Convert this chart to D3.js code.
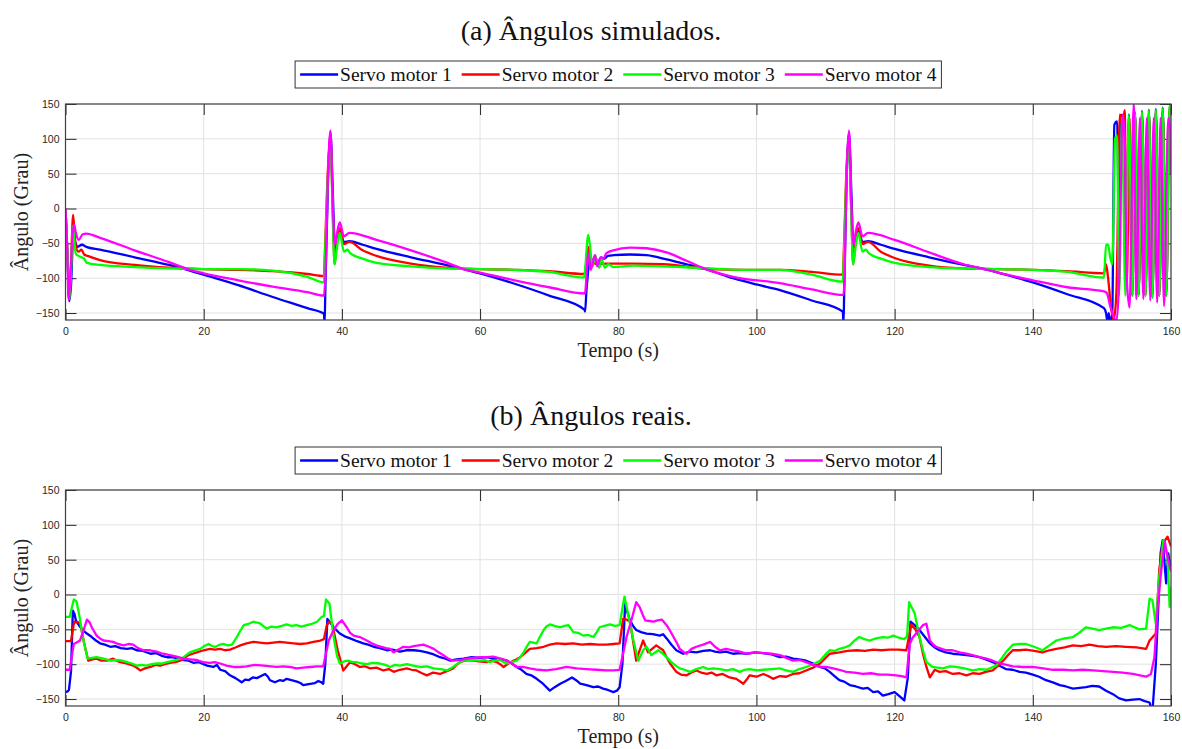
<!DOCTYPE html>
<html>
<head>
<meta charset="utf-8">
<script src="https://cdn.jsdelivr.net/npm/d3@7"></script>
<style>
body { margin: 0; background: #fff; }
</style>
</head>
<body>
<div id="chart"></div>
<script>
// tick values and labels
const xTicks = [0, 20, 40, 60, 80, 100, 120, 140, 160];
const yTicks = [-150, -100, -50, 0, 50, 100, 150];
const seriesNames = ["Servo motor 1", "Servo motor 2", "Servo motor 3", "Servo motor 4"];

// (a) simulated angles, [tempo, angulo]
const sim1 = [[0,0],[0.3,-70],[0.55,-133],[0.8,-110],[1.1,-45],[1.4,-48],[1.7,-55],[2.4,-52],[3,-55],[5,-59],[10,-70],[15,-81],[18,-89],[20,-95],[25,-110],[30,-127],[35,-143],[37.4,-151],[37.5,-165],[37.6,-120],[38.0,40],[38.35,108],[38.7,20],[39.0,-60],[39.4,-38],[39.7,-32],[40.3,-48],[41.1,-47],[43,-52],[45,-58],[50,-70],[55,-81],[58,-88],[60,-93],[65,-108],[70,-125],[75.1,-145],[75.2,-148],[75.4,-117],[75.6,-95],[75.8,-73],[76.1,-82],[76.5,-72],[77,-78],[77.5,-70],[78,-72],[78.5,-68],[79.3,-67],[81.7,-66],[84.1,-67],[87,-73],[89.9,-80],[93,-88],[96.6,-100],[100,-109],[103.4,-117],[108,-132],[112.5,-148],[112.6,-165],[112.7,-120],[113.05,40],[113.4,108],[113.75,20],[114.05,-60],[114.45,-38],[114.75,-32],[115.35,-48],[116.15,-47],[118,-52],[120,-58],[125,-70],[130,-81],[133.5,-88],[135,-92],[140,-106],[145,-123],[150.3,-143],[150.6,-150],[150.8,-162],[151.0,-150],[151.2,-165],[151.5,-150],[151.8,120],[152.2,125],[152.5,-60],[152.8,134],[153.2,134],[153.5,-110],[153.9,135],[154.4,-125],[154.8,138],[155.3,-125],[155.8,140],[156.3,-125],[156.8,142],[157.3,-128],[157.8,143],[158.3,-125],[158.8,145],[159.3,-125],[159.8,147],[160,140]];
const sim2 = [[0,0],[0.3,-70],[0.55,-130],[0.8,-80],[1.1,-9],[1.35,-40],[1.5,-55],[1.9,-62],[2.3,-59],[2.7,-66],[3.2,-68],[5,-74],[10,-81],[15,-85],[20,-87],[25,-88],[30,-90],[35,-94],[37.4,-97],[37.55,-60],[38.0,60],[38.35,100],[38.7,-10],[38.95,-80],[39.3,-45],[39.7,-28],[40.3,-51],[41.1,-48],[43,-60],[45,-68],[50,-79],[55,-85],[60,-87],[65,-88],[70,-90],[75.1,-94],[75.7,-55],[76.1,-73],[76.9,-80],[78.3,-79],[82.2,-79],[86.5,-80],[91.3,-85],[93,-87],[98.5,-88],[103.4,-88],[108,-91],[112.5,-95],[112.65,-60],[113.05,60],[113.4,100],[113.75,-10],[114.0,-80],[114.35,-45],[114.75,-28],[115.35,-51],[116.15,-48],[118,-62],[120,-71],[125,-82],[130,-86],[135,-87],[140,-88],[145,-90],[150.3,-93],[150.6,-80],[150.9,-100],[151.3,-140],[151.7,-160],[152.1,-120],[152.6,135],[153.0,120],[153.3,141],[153.6,-110],[154.0,130],[154.4,-125],[154.8,135],[155.3,-125],[155.8,138],[156.3,-125],[156.8,140],[157.3,-125],[157.8,140],[158.3,-125],[158.8,142],[159.3,-125],[159.8,144],[160,140]];
const sim3 = [[0,0],[0.3,-70],[0.55,-130],[0.8,-90],[1.1,-25],[1.35,-55],[1.5,-65],[1.9,-68],[2.3,-70],[2.7,-72],[3.1,-78],[5,-81],[10,-84],[15,-86],[20,-87],[25,-87],[30,-89],[35,-98],[37.4,-106],[37.55,-70],[38.0,50],[38.35,95],[38.7,-20],[38.95,-80],[39.3,-55],[39.7,-35],[40.3,-62],[40.8,-59],[41.2,-64],[43,-72],[45,-78],[50,-83],[55,-86],[60,-87],[65,-88],[70,-91],[75.04,-99],[75.66,-38],[76.29,-83],[76.63,-67],[77.25,-85],[77.59,-73],[78.07,-85],[78.55,-80],[79.28,-84],[82.17,-82],[86.5,-83],[91.33,-85],[98.55,-88],[103.4,-88],[108,-95],[112.5,-105],[112.65,-70],[113.05,50],[113.4,95],[113.75,-20],[114.0,-80],[114.35,-55],[114.75,-35],[115.35,-62],[115.85,-59],[116.25,-64],[118,-72],[120,-78],[125,-84],[130,-86],[135,-87],[140,-88],[145,-91],[150.3,-99],[150.6,-52],[150.9,-52],[151.2,-70],[151.5,-80],[151.9,100],[152.2,105],[152.5,-125],[152.9,130],[153.4,-125],[153.9,134],[154.4,-125],[154.8,137],[155.3,-125],[155.8,139],[156.3,-126],[156.8,141],[157.3,-128],[157.8,142],[158.3,-125],[158.8,144],[159.3,-125],[159.8,146],[160,148]];
const sim4 = [[0,0],[0.25,-60],[0.45,-131],[0.7,-100],[1.0,-40],[1.25,-23],[1.5,-35],[1.9,-45],[2.5,-37],[3,-36],[5,-42],[10,-60],[15,-77],[18,-88],[20,-93],[25,-103],[30,-112],[35,-120],[37.4,-125],[37.6,-100],[38.0,50],[38.35,112],[38.7,0],[39.0,-52],[39.3,-35],[39.7,-20],[40.3,-40],[41.1,-35],[45,-45],[50,-60],[55,-77],[58,-88],[60,-92],[65,-103],[70,-113],[75.18,-122],[75.66,-64],[76.0,-88],[76.63,-67],[76.96,-83],[77.45,-70],[77.83,-72],[78.31,-64],[79.28,-60],[81.69,-56],[84.1,-57],[86.99,-63],[89.88,-75],[93,-88],[96.63,-98],[103.37,-107],[108,-116],[112.6,-124],[112.75,-100],[113.05,50],[113.4,112],[113.75,0],[114.05,-52],[114.35,-35],[114.75,-20],[115.35,-40],[116.15,-35],[120,-45],[125,-63],[130,-80],[133.5,-88],[135,-92],[140,-103],[145,-113],[150.3,-119],[150.7,-121],[151.2,-140],[151.8,-158],[152.1,-162],[152.5,-100],[153.0,135],[153.3,100],[153.6,-100],[154.0,-142],[154.6,150],[155.0,-130],[155.5,130],[156.0,-130],[156.5,130],[157.0,-132],[157.5,130],[158.0,-135],[158.5,130],[159.0,-140],[159.6,130],[159.9,113],[160,49]];

// (b) real angles, [tempo, angulo]
const real1 = [[0,-140],[0.3,-139],[0.5,-137],[0.8,-110],[1.06,-23],[1.3,-28],[1.5,-37],[2.0,-45],[2.5,-51],[3.1,-56],[3.8,-61],[4.4,-66],[5,-70],[5.7,-72],[6.5,-75],[7.2,-74],[8.0,-77],[8.9,-78],[9.6,-77],[10.3,-80],[11.2,-81],[12.3,-85],[13.1,-84],[13.9,-88],[14.7,-90],[15.6,-90],[16.4,-93],[17.1,-94],[17.8,-95],[18.5,-98],[19.3,-97],[20.5,-102],[21.4,-104],[21.9,-101],[22.4,-108],[23.1,-110],[23.8,-116],[24.6,-120],[25.5,-126],[26.0,-122],[26.5,-123],[27.1,-119],[27.7,-120],[28.3,-117],[28.9,-114],[29.3,-118],[29.6,-123],[30.3,-126],[31,-123],[31.5,-124],[32,-121],[32.7,-123],[33.5,-125],[34.0,-127],[34.4,-130],[35.0,-129],[35.6,-128],[36.1,-127],[36.6,-124],[37.0,-126],[37.3,-128],[37.6,-100],[37.9,-35],[38.3,-40],[38.8,-47],[39.7,-56],[40.4,-60],[41.2,-63],[42.2,-67],[43.1,-70],[43.8,-72],[44.6,-75],[45.5,-77],[46.5,-80],[47.3,-79],[48.4,-82],[49.3,-80],[50.4,-80],[51.3,-81],[52.3,-83],[53.3,-86],[54.2,-90],[55,-92],[55.7,-95],[56.6,-93],[57.6,-92],[58.8,-90],[60,-91],[61,-90],[61.9,-92],[62.9,-93],[63.9,-95],[64.6,-99],[65.3,-104],[66,-108],[66.7,-114],[67.4,-116],[68.2,-121],[69.1,-128],[70.1,-138],[70.8,-133],[71.6,-128],[72.4,-124],[73.3,-119],[73.9,-123],[74.5,-128],[75.4,-130],[76.4,-133],[77.1,-132],[77.8,-135],[78.5,-137],[79.3,-140],[79.8,-138],[80.2,-133],[80.6,-100],[81.0,-13],[81.3,-25],[81.7,-37],[82.2,-46],[82.6,-51],[83.3,-54],[84.1,-56],[85,-57],[86,-59],[86.5,-57],[87,-63],[87.7,-72],[88.4,-80],[89.4,-85],[90.3,-82],[91.3,-83],[92.3,-81],[93.3,-80],[94,-82],[94.7,-83],[95.6,-82],[96.6,-85],[97.6,-84],[98.6,-85],[99.8,-83],[101,-84],[102.2,-86],[103.4,-90],[104.3,-89],[105.3,-92],[106.2,-93],[107.2,-95],[108.2,-99],[109.2,-104],[109.9,-106],[110.6,-111],[111.3,-117],[112,-123],[112.7,-125],[113.5,-130],[114.4,-132],[115.4,-135],[116.1,-134],[116.9,-140],[117.6,-139],[118.3,-145],[119.1,-143],[120,-140],[120.7,-146],[121.4,-152],[121.9,-120],[122.3,-39],[122.9,-44],[123.6,-51],[124.3,-60],[125.1,-70],[125.8,-76],[126.5,-80],[127.4,-83],[128.4,-85],[129.4,-86],[130.4,-87],[131.3,-88],[132.3,-90],[133.2,-93],[134.2,-97],[135.1,-102],[136.1,-107],[137.1,-108],[138.1,-111],[139,-112],[140,-115],[140.9,-118],[141.9,-123],[142.9,-126],[143.9,-130],[144.8,-132],[145.8,-135],[146.8,-134],[147.7,-133],[148.6,-131],[149.6,-132],[150.6,-138],[151.6,-143],[152.5,-149],[153.5,-152],[154.5,-151],[155.4,-150],[156.2,-153],[156.9,-155],[157.3,-170],[157.8,-100],[158.5,60],[158.8,78],[159.3,16],[159.6,59],[160,35]];
const real2 = [[0,-67],[0.8,-67],[1.25,-39],[1.7,-40],[2.1,-40],[2.7,-70],[3.3,-95],[3.9,-93],[4.5,-92],[5.2,-95],[6,-95],[6.9,-92],[7.4,-95],[7.9,-97],[8.8,-99],[9.8,-102],[10.3,-105],[10.8,-109],[11.5,-106],[12.3,-104],[13,-101],[13.7,-102],[14.4,-100],[15.1,-98],[15.9,-97],[16.6,-95],[17.2,-91],[17.8,-87],[18.4,-85],[19,-83],[20,-80],[20.9,-78],[21.6,-79],[22.4,-78],[23.1,-80],[23.8,-79],[24.6,-76],[25.3,-73],[26.2,-70],[27.2,-68],[28.1,-69],[29.1,-70],[30.1,-69],[31,-68],[32,-69],[33,-70],[34,-71],[34.9,-70],[35.9,-68],[36.9,-66],[37.4,-64],[37.8,-45],[38.1,-39],[38.6,-42],[39.4,-80],[40.2,-109],[40.7,-103],[41.2,-97],[41.9,-100],[42.6,-104],[43.3,-103],[44.1,-106],[45,-105],[46,-109],[46.8,-107],[47.5,-111],[48.4,-108],[49.4,-106],[50.1,-108],[50.8,-109],[51.6,-113],[52.3,-116],[53.2,-112],[54.2,-114],[55.2,-110],[56.1,-106],[56.6,-101],[57.1,-97],[57.8,-95],[58.6,-94],[59.8,-96],[61,-97],[61.7,-95],[62.4,-97],[62.9,-100],[63.4,-104],[64.1,-99],[64.8,-95],[65.3,-93],[65.8,-90],[66.5,-84],[67.2,-78],[68.2,-77],[69.2,-75],[70.1,-72],[71.1,-70],[72.3,-71],[73.5,-70],[74.7,-72],[75.9,-71],[77.1,-72],[78.3,-72],[79.3,-71],[80.2,-70],[80.7,-35],[81.2,-36],[81.7,-39],[82.2,-70],[82.6,-95],[83.1,-80],[83.6,-66],[84.3,-83],[84.9,-78],[85.5,-73],[86.5,-80],[87,-90],[87.5,-99],[88.4,-111],[89.1,-115],[89.9,-116],[90.6,-112],[91.3,-109],[92,-112],[92.8,-114],[93.5,-112],[94.2,-116],[95.1,-114],[96.1,-119],[97.1,-121],[98.1,-128],[98.6,-122],[99,-116],[100,-118],[101,-114],[101.7,-117],[102.4,-121],[103.4,-117],[104.3,-118],[105.3,-114],[106.2,-113],[107.2,-109],[108.2,-105],[109.2,-99],[109.9,-92],[110.6,-85],[111.3,-84],[112,-83],[113.2,-81],[114.5,-80],[115.7,-81],[116.9,-79],[118.1,-80],[119.3,-79],[120.5,-79],[121.7,-80],[122.4,-43],[123,-50],[123.6,-61],[124.1,-85],[124.6,-104],[125.1,-119],[125.8,-108],[126.5,-111],[127.4,-110],[128.4,-114],[129.4,-113],[130.4,-116],[131.3,-113],[132.3,-114],[133.2,-111],[134.2,-109],[135,-102],[135.7,-95],[136.4,-87],[137.1,-80],[138,-80],[139,-79],[140.2,-81],[141.4,-83],[142.4,-80],[143.4,-78],[144.6,-76],[145.8,-73],[147,-74],[148.2,-72],[149.4,-74],[150.6,-75],[152,-74],[153.5,-75],[155,-76],[156.4,-78],[156.9,-66],[157.8,-56],[158.3,35],[158.8,73],[159.5,83],[160,69]];
const real3 = [[0,-32],[0.6,-32],[1.2,-7],[1.6,-10],[2.0,-30],[2.5,-61],[3.2,-92],[3.8,-91],[4.5,-90],[5.5,-92],[6.5,-95],[7.5,-94],[8.2,-95],[8.9,-97],[9.6,-99],[10.3,-102],[11,-101],[11.7,-102],[12.5,-100],[13.2,-99],[14,-99],[14.7,-97],[15.6,-95],[16.3,-93],[17.1,-90],[17.6,-86],[18,-83],[18.8,-80],[19.5,-78],[20.1,-74],[20.7,-71],[21.2,-74],[21.7,-75],[22.3,-72],[22.9,-71],[23.5,-73],[24.1,-72],[24.8,-61],[25.3,-52],[25.8,-44],[26.5,-42],[27.2,-39],[27.6,-40],[28.1,-41],[28.6,-45],[29.1,-49],[29.8,-46],[30.5,-47],[31.3,-45],[32,-43],[32.7,-45],[33.4,-44],[34.2,-46],[34.9,-44],[35.7,-42],[36.4,-39],[37.1,-32],[37.4,-31],[37.7,-7],[38.2,-13],[38.8,-61],[39.3,-88],[39.7,-99],[40.3,-96],[40.9,-95],[41.5,-97],[42.1,-97],[42.9,-99],[43.6,-100],[44.5,-98],[45.5,-99],[46.3,-101],[47,-104],[47.7,-101],[48.4,-102],[49.4,-100],[50.3,-102],[51.3,-104],[52.3,-103],[53.3,-106],[54.3,-107],[55.2,-109],[56.1,-104],[56.8,-99],[57.6,-95],[58.8,-94],[60,-95],[60.7,-94],[61.4,-97],[62.1,-95],[62.9,-94],[63.4,-97],[63.9,-99],[64.6,-97],[65.3,-95],[65.8,-90],[66.3,-83],[66.8,-74],[67.2,-68],[67.7,-69],[68.2,-70],[68.7,-60],[69.2,-51],[69.6,-46],[70.1,-43],[70.8,-45],[71.6,-47],[72.2,-45],[72.8,-44],[73.5,-54],[74.2,-55],[74.9,-59],[75.6,-58],[76.4,-61],[76.9,-54],[77.3,-47],[78,-45],[78.8,-43],[79.5,-45],[80.2,-44],[80.6,-20],[80.9,-3],[81.4,-27],[82.2,-66],[82.9,-95],[83.6,-80],[84.1,-75],[84.8,-87],[85.8,-80],[86.7,-87],[87.7,-97],[88.3,-102],[88.9,-106],[89.6,-108],[90.4,-111],[91.3,-107],[92.3,-104],[93,-107],[93.7,-106],[94.7,-107],[95.7,-109],[96.6,-107],[97.6,-111],[98.3,-108],[99,-107],[100,-109],[101,-108],[102.2,-107],[103.4,-106],[104.3,-109],[105.3,-111],[106.2,-107],[107.2,-104],[108.2,-100],[109.2,-95],[109.9,-87],[110.6,-80],[111.3,-81],[112,-78],[112.8,-76],[113.5,-73],[114.2,-66],[114.9,-61],[115.6,-64],[116.4,-66],[117.3,-63],[118.3,-61],[119,-62],[119.8,-59],[120.6,-62],[121.4,-64],[121.8,-60],[122.1,-11],[122.9,-27],[123.6,-61],[124.1,-80],[124.6,-97],[125.5,-104],[126.2,-105],[127,-106],[128,-103],[128.9,-104],[130.1,-106],[131.3,-109],[132.3,-107],[133.3,-108],[134.7,-102],[135.4,-93],[136.1,-83],[137.1,-72],[138,-71],[139,-71],[140.2,-75],[141.4,-80],[142.4,-73],[143.4,-66],[144.6,-63],[145.8,-61],[146.7,-55],[147.7,-47],[148.6,-49],[149.6,-51],[150.6,-49],[151.6,-47],[152.8,-48],[154,-44],[154.7,-47],[155.4,-50],[156.4,-49],[156.9,-6],[157.3,-8],[157.8,-42],[158.3,25],[158.9,78],[159.5,54],[159.8,-18],[160,11]];
const real4 = [[0,-108],[0.6,-108],[1.2,-71],[1.6,-69],[2.1,-66],[2.6,-52],[3.1,-36],[3.5,-40],[3.8,-47],[4.5,-59],[5,-63],[5.5,-66],[6.2,-67],[6.9,-68],[7.6,-71],[8.4,-73],[9.1,-71],[9.8,-72],[10.5,-77],[11.3,-80],[12.2,-80],[13.2,-82],[14.1,-85],[15.1,-87],[16.1,-89],[17.1,-92],[18,-93],[19,-94],[19.9,-97],[20.9,-98],[21.6,-97],[22.4,-99],[23.3,-102],[24.3,-104],[25.2,-104],[26.2,-103],[27.4,-101],[28.7,-102],[29.7,-103],[30.6,-104],[31.5,-103],[32.5,-104],[33.4,-106],[34.4,-105],[35.4,-104],[36.4,-103],[37.3,-103],[37.7,-85],[38.1,-66],[38.8,-51],[39.4,-42],[40,-37],[40.7,-47],[41.2,-55],[41.7,-59],[42.6,-61],[43.6,-66],[44.3,-70],[45,-73],[45.7,-75],[46.4,-77],[47,-78],[47.5,-83],[48.2,-79],[48.9,-75],[49.7,-76],[50.4,-74],[51.1,-73],[51.8,-72],[52.6,-75],[53.3,-78],[54,-83],[54.7,-87],[55.4,-92],[56.1,-95],[57.1,-94],[58.1,-92],[59,-91],[60,-90],[61,-90],[61.9,-89],[63,-92],[63.9,-95],[64.6,-99],[65.3,-104],[66.2,-104],[67.2,-106],[68.4,-108],[69.6,-109],[71,-107],[72.5,-104],[74,-106],[75.4,-107],[76.8,-108],[78.3,-109],[79.3,-109],[80.2,-108],[80.7,-85],[81.2,-61],[81.9,-37],[82.6,-11],[83.1,-18],[83.5,-28],[83.9,-37],[84.5,-38],[85.1,-39],[85.7,-37],[86.3,-36],[87,-44],[87.5,-52],[88,-61],[88.5,-70],[88.9,-78],[89.4,-82],[89.9,-85],[90.6,-78],[91.3,-75],[92.3,-72],[93.3,-68],[94,-75],[94.7,-80],[95.6,-78],[96.6,-80],[97.6,-82],[98.6,-85],[99.8,-83],[101,-84],[102.2,-85],[103.4,-87],[104.3,-91],[105.3,-95],[106.2,-94],[107.2,-97],[108.2,-101],[109.2,-104],[110.1,-104],[111.1,-106],[112,-108],[113,-111],[114.2,-112],[115.4,-114],[116.6,-113],[117.8,-115],[119,-115],[120.2,-116],[121,-117],[121.7,-119],[122.2,-71],[122.6,-62],[123.1,-56],[123.6,-50],[124.1,-44],[124.6,-42],[125.1,-66],[125.6,-72],[126,-75],[126.8,-78],[127.5,-80],[128.4,-80],[129.4,-83],[130.4,-85],[131.3,-87],[132.3,-90],[133.3,-92],[134.2,-95],[135.2,-99],[136.2,-101],[137.1,-103],[138.5,-104],[140,-104],[141.5,-106],[142.9,-108],[144.4,-108],[145.8,-109],[147.2,-108],[148.7,-109],[150.2,-110],[151.6,-111],[153,-112],[154.5,-114],[155.5,-116],[156.4,-118],[157.1,-114],[157.6,-90],[158.1,-13],[158.6,35],[159.1,76],[159.5,54],[160,33]];

const colors = ["#0000ff", "#ff0000", "#00ff00", "#ff00ff"];
const serif = "'Liberation Serif', 'Times New Roman', serif";
const sans = "'Liberation Sans', Arial, Helvetica, sans-serif";

const W = 1182, H = 749;
const svg = d3.select("#chart").append("svg")
    .attr("width", W)
    .attr("height", H)
    .style("background-color", "#fff");

const x = d3.scaleLinear().domain([0, 160]).range([65.5, 1171]);

function drawPanel(id, title, series, curve, titleY, legendY, top) {
    const bottom = top + 216;
    const y = d3.scaleLinear().domain([-160, 150]).range([bottom, top]);
    const g = svg.append("g");

    // grid
    g.selectAll(".gx").data(xTicks).enter().append("line")
        .attr("x1", d => x(d)).attr("x2", d => x(d))
        .attr("y1", top).attr("y2", bottom)
        .attr("stroke", "#e2e2e2").attr("stroke-width", 1);
    g.selectAll(".gy").data(yTicks).enter().append("line")
        .attr("x1", x(0)).attr("x2", x(160))
        .attr("y1", d => y(d)).attr("y2", d => y(d))
        .attr("stroke", "#e2e2e2").attr("stroke-width", 1);

    // axes, ticks pointing inside
    const ax = [
        g.append("g").attr("transform", "translate(0," + bottom + ")")
            .call(d3.axisBottom(x).tickValues(xTicks).tickSize(-11).tickSizeOuter(0).tickPadding(8)),
        g.append("g").attr("transform", "translate(0," + top + ")")
            .call(d3.axisTop(x).tickValues(xTicks).tickSize(-11).tickSizeOuter(0).tickFormat("")),
        g.append("g").attr("transform", "translate(" + x(0) + ",0)")
            .call(d3.axisLeft(y).tickValues(yTicks).tickSize(-11).tickSizeOuter(0).tickPadding(6)),
        g.append("g").attr("transform", "translate(" + x(160) + ",0)")
            .call(d3.axisRight(y).tickValues(yTicks).tickSize(-11).tickSizeOuter(0).tickFormat(""))
    ];
    ax.forEach(a => {
        a.select(".domain").remove();
        a.selectAll(".tick line").attr("stroke", "#262626");
        a.selectAll(".tick text").attr("fill", "#262626")
            .style("font-family", sans).style("font-size", "10.5px");
    });

    // data lines
    g.append("clipPath").attr("id", id)
        .append("rect").attr("x", x(0)).attr("y", top)
        .attr("width", x(160) - x(0)).attr("height", bottom - top);
    const line = d3.line().curve(curve).x(d => x(d[0])).y(d => y(d[1]));
    g.append("g").attr("clip-path", "url(#" + id + ")")
        .selectAll("path").data(series).enter().append("path")
        .attr("d", d => line(d))
        .attr("fill", "none")
        .attr("stroke", (d, i) => colors[i])
        .attr("stroke-width", 2.3)
        .attr("stroke-linejoin", "round");

    // box
    g.append("rect")
        .attr("x", x(0)).attr("y", top)
        .attr("width", x(160) - x(0)).attr("height", bottom - top)
        .attr("fill", "none").attr("stroke", "#404040").attr("stroke-width", 1.2);

    // labels
    g.append("text").text(title)
        .attr("x", 591).attr("y", titleY)
        .attr("text-anchor", "middle")
        .style("font-family", serif).style("font-size", "28px").attr("fill", "#111");
    g.append("text").text("Tempo (s)")
        .attr("x", (x(0) + x(160)) / 2).attr("y", bottom + 37)
        .attr("text-anchor", "middle")
        .style("font-family", serif).style("font-size", "20px").attr("fill", "#222");
    g.append("text").text("Ângulo (Grau)")
        .attr("transform", "translate(28," + (top + bottom) / 2 + ") rotate(-90)")
        .attr("text-anchor", "middle")
        .style("font-family", serif).style("font-size", "20px").attr("fill", "#222");

    // legend
    const lg = g.append("g");
    const items = lg.selectAll(".item").data(seriesNames).enter().append("g");
    const texts = items.append("text").text(d => d)
        .style("font-family", serif).style("font-size", "19.5px").attr("fill", "#111");
    const widths = [];
    texts.each(function () { widths.push(this.getComputedTextLength()); });
    let cx = 5;
    const offs = [];
    widths.forEach(w => { offs.push(cx); cx += 38 + 2 + w + 10; });
    const total = cx - 10 + 5;
    const left = (x(0) + x(160)) / 2 - total / 2;
    lg.insert("rect", ":first-child")
        .attr("x", left).attr("y", legendY)
        .attr("width", total).attr("height", 27)
        .attr("fill", "#fff").attr("stroke", "#333").attr("stroke-width", 1);
    items.attr("transform", (d, i) => "translate(" + (left + offs[i]) + "," + (legendY + 13.5) + ")");
    items.append("line").attr("x1", 0).attr("x2", 38).attr("y1", 0).attr("y2", 0)
        .attr("stroke", (d, i) => colors[i]).attr("stroke-width", 2.3);
    texts.attr("x", 40).attr("y", 6.5);
}

drawPanel("clipA", "(a) Ângulos simulados.", [sim1, sim2, sim3, sim4], d3.curveMonotoneX, 40, 61, 104);
drawPanel("clipB", "(b) Ângulos reais.", [real1, real2, real3, real4], d3.curveLinear, 425, 447, 490);
</script>
</body>
</html>
